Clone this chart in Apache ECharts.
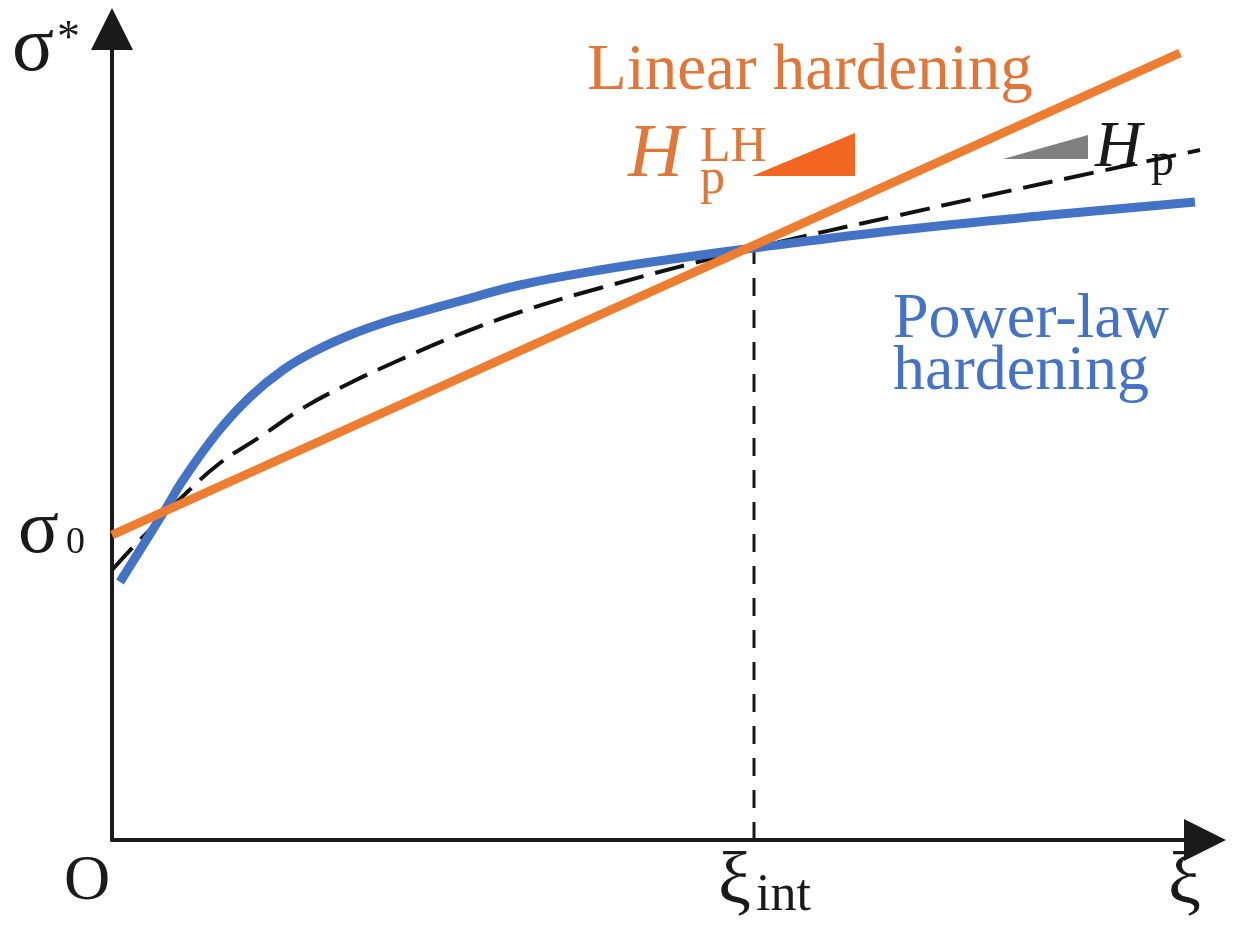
<!DOCTYPE html>
<html>
<head>
<meta charset="utf-8">
<script src="https://cdn.jsdelivr.net/npm/echarts@6/dist/echarts.min.js"></script>
<style>
  html, body { margin: 0; padding: 0; background: #fff; }
  #chart { width: 1241px; height: 942px; }
</style>
</head>
<body>
<div id="chart"></div>
<script>
// strain axis runs 0..1093, stress axis 0..811 (schematic units)
const X_MAX = 1093;
const Y_MAX = 811;

const linearHardening = [[0, 305], [1068, 787]];

const powerLaw = [
  [8, 258], [53, 330], [71, 360], [105, 407], [138, 443], [171, 470],
  [205, 490], [238, 505], [271, 517], [305, 527], [348, 539], [408, 555],
  [488, 570], [568, 582], [642, 592], [788, 610], [938, 625], [1083, 638]
];

const tangentFit = [
  [0, 270], [21, 293], [40, 312], [68, 341], [108, 377], [148, 403],
  [191, 432], [238, 457], [283, 478], [338, 502], [408, 528], [488, 552],
  [642, 592], [788, 625], [938, 658], [1088, 690]
];

const xiInt = [[642, 0], [642, 592]];

// slope triangles: [x0, y0, x1, y1, x2, y2, colour index]
const slopeTriangles = [
  [640, 664, 743, 707, 743, 664, 0],
  [891, 681, 976, 705, 976, 681, 1]
];

const ORANGE = "#ed7d31";
const BLUE = "#4472c4";
const TRI_COLORS = ["#f26522", "#808080"];
const SERIF = "'Liberation Serif', 'Times New Roman', serif";

const chart = echarts.init(document.getElementById("chart"), null, { renderer: "canvas" });

function label(text, x, y, size, fill, italic) {
  return {
    type: "text",
    x: x,
    y: y,
    silent: true,
    style: {
      text: text,
      font: (italic ? "italic " : "") + size + "px " + SERIF,
      fill: fill,
      textAlign: "left",
      textVerticalAlign: "middle"
    }
  };
}

const axisCommon = {
  type: "value",
  axisLine: {
    show: true,
    symbol: ["none", "triangle"],
    symbolSize: [42, 42],
    lineStyle: { color: "#1a1a1a", width: 4 }
  },
  axisTick: { show: false },
  axisLabel: { show: false },
  splitLine: { show: false }
};

chart.setOption({
  backgroundColor: "#ffffff",
  animation: false,
  grid: { left: 112, right: 36, top: 29, bottom: 102 },
  xAxis: Object.assign({}, axisCommon, { min: 0, max: X_MAX }),
  yAxis: Object.assign({}, axisCommon, { min: 0, max: Y_MAX }),
  series: [
    {
      type: "line",
      data: xiInt,
      symbol: "none",
      lineStyle: { color: "#1a1a1a", width: 3, type: [18, 14] }
    },
    {
      type: "line",
      data: tangentFit,
      symbol: "none",
      smooth: 0.4,
      lineStyle: { color: "#111", width: 4, type: [30, 12] }
    },
    {
      type: "line",
      data: powerLaw,
      symbol: "none",
      smooth: 0.4,
      lineStyle: { color: BLUE, width: 9 }
    },
    {
      type: "line",
      data: linearHardening,
      symbol: "none",
      lineStyle: { color: ORANGE, width: 9 }
    },
    {
      type: "custom",
      data: slopeTriangles,
      silent: true,
      renderItem: function (params, api) {
        const pts = [
          api.coord([api.value(0), api.value(1)]),
          api.coord([api.value(2), api.value(3)]),
          api.coord([api.value(4), api.value(5)])
        ];
        return {
          type: "polygon",
          shape: { points: pts },
          style: { fill: TRI_COLORS[api.value(6)] }
        };
      }
    }
  ],
  graphic: [
    label("σ", 12, 50, 78, "#1a1a1a"),
    label("*", 57, 40, 46, "#1a1a1a"),
    label("σ", 18, 532, 76, "#1a1a1a"),
    label("0", 66, 543, 38, "#1a1a1a"),
    label("O", 64, 882, 64, "#1a1a1a"),
    label("ξ", 718, 884, 74, "#1a1a1a"),
    label("int", 756, 896, 52, "#1a1a1a"),
    label("ξ", 1168, 884, 74, "#1a1a1a"),
    label("Linear hardening", 587, 72, 65, "#e0773a"),
    label("H", 628, 156, 76, "#e0773a", true),
    label("LH", 700, 148, 50, "#e0773a"),
    label("p", 700, 180, 50, "#e0773a"),
    label("H", 1095, 149, 65, "#1a1a1a", true),
    label("p", 1151, 163, 46, "#1a1a1a"),
    label("Power-law", 893, 320, 64, BLUE),
    label("hardening", 893, 372, 64, BLUE)
  ]
});
</script>
</body>
</html>
